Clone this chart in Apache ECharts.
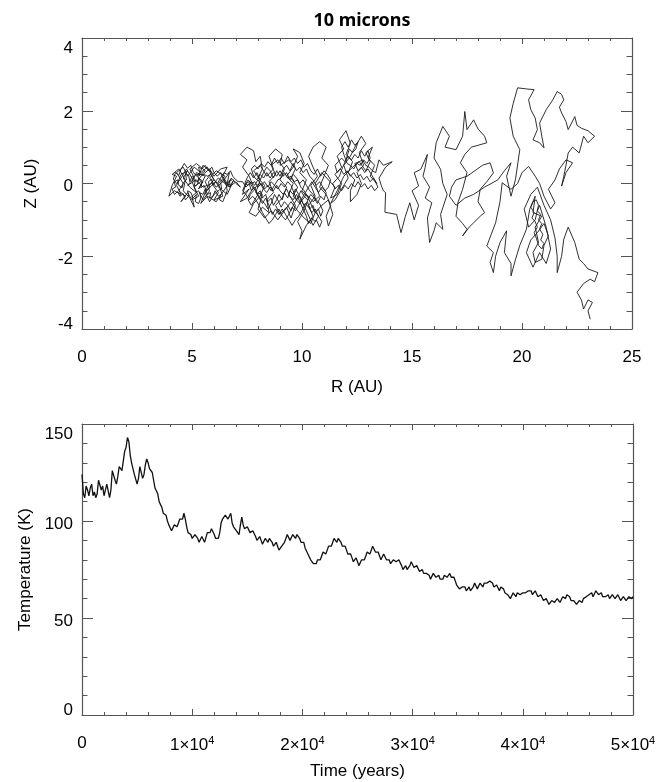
<!DOCTYPE html>
<html>
<head>
<meta charset="utf-8">
<script src="https://cdn.jsdelivr.net/npm/echarts@6/dist/echarts.min.js"></script>
<style>
html,body{margin:0;padding:0;background:#fff;}
#chart{width:663px;height:782px;}
</style>
</head>
<body>
<div id="chart"></div>
<script>
// ---- Data ----
var titleText = '10 microns';
var rTicks = [0, 5, 10, 15, 20, 25];
var zTicks = [-4, -2, 0, 2, 4];
var timeTicks = [0, 10000, 20000, 30000, 40000, 50000];
var tempTicks = [0, 50, 100, 150];

// trajectory in the (R, Z) plane, in AU (consecutive pieces of one path)
var trackInner = [
[5.5,0.05],[5.3,-0.15],[5.6,0.2],[5.2,0.3],[5.0,0.05],[5.2,-0.25],[4.9,-0.1],[4.6,0.15],[4.8,0.35],[4.5,0.25],[4.3,-0.05],[4.5,-0.3],[4.2,-0.2],[3.95,-0.35],[4.1,-0.05],[4.3,0.2],[4.1,0.25],[4.4,0.4],[4.7,0.1],[4.6,-0.2],[4.9,-0.4],[5.1,-0.65],[5.0,-0.35],[5.3,-0.2],[5.5,-0.45],[5.8,-0.2],[5.6,0.05],[5.9,0.3],[5.5,0.5],[5.3,0.2],[5.6,0.35],[5.2,0.55],[4.9,0.4],[5.1,0.15],[4.8,-0.05],[5.2,0.1],[5.5,-0.1],[5.9,0.0],[6.2,-0.25],[6.0,-0.45],[6.4,-0.35],[6.2,0.0],[6.5,0.2],[6.1,0.35],[5.8,0.15],[6.1,-0.1],[6.4,0.05],[6.7,0.3],[6.6,0.0],[6.8,0.15],[6.5,-0.15],[6.1,-0.5],[5.7,-0.35],[5.4,-0.55],[5.7,-0.1],[6.0,0.1],[5.7,0.45],[5.4,0.3],[5.1,0.45],[4.8,0.2],[4.6,0.45],[4.3,0.3],[4.6,0.0],[4.4,-0.2],[4.7,-0.35],[4.5,-0.5],[4.8,-0.25],[5.0,-0.45],[5.3,-0.35],[5.1,-0.1],[5.4,0.05],[5.2,0.25],[5.5,0.25],[5.8,0.4],[6.0,0.2],[6.3,0.4],[6.6,0.45],[6.4,0.2],[6.7,-0.1],[6.9,0.1],[6.6,-0.3],[6.3,-0.15],[6.0,-0.3],[5.8,-0.5],[5.6,-0.25],[5.9,-0.05],[6.2,0.15],[6.5,0.0],[6.8,-0.05],[7.0,0.05],[7.2,-0.1]
];
var trackInnerFine = [
[7.0,0.0],[6.85,0.12],[6.7,0.05],[6.75,-0.1],[6.55,-0.05],[6.45,0.1],[6.3,0.02],[6.35,-0.15],[6.2,-0.1],[6.1,0.05],[5.95,-0.05],[5.9,0.12],[5.75,0.05],[5.8,-0.12],[5.65,-0.2],[5.55,-0.05],[5.4,-0.12],[5.45,0.08],[5.3,0.15],[5.25,-0.02],[5.1,-0.08],[5.15,0.1],[5.0,0.2],[4.9,0.05],[4.85,0.22],[4.7,0.28],[4.75,0.1],[4.6,0.02],[4.55,-0.12],[4.4,-0.05],[4.35,0.1],[4.2,0.05],[4.25,-0.1],[4.1,-0.15],[4.2,-0.3],[4.35,-0.22],[4.45,-0.35],[4.6,-0.28],[4.7,-0.45],[4.85,-0.35],[4.8,-0.2],[4.95,-0.25],[5.05,-0.4],[5.2,-0.3],[5.15,-0.5],[5.3,-0.55],[5.4,-0.4],[5.35,-0.25],[5.5,-0.3],[5.6,-0.15],[5.7,-0.3],[5.85,-0.25],[5.8,-0.4],[5.95,-0.35],[6.05,-0.2],[6.2,-0.35],[6.3,-0.3],[6.25,-0.45],[6.4,-0.5],[6.5,-0.35],[6.6,-0.2],[6.55,0.0],[6.4,0.15],[6.3,0.3],[6.15,0.2],[6.0,0.3],[5.9,0.45],[5.75,0.35],[5.6,0.5],[5.45,0.4],[5.3,0.45],[5.35,0.3],[5.2,0.2],[5.05,0.32],[4.95,0.5],[4.8,0.42],[4.65,0.55],[4.5,0.4],[4.4,0.22],[4.25,0.3],[4.15,0.12],[4.3,0.0],[4.45,0.1],[4.6,0.25],[4.75,0.4],[4.9,0.25],[5.05,0.1],[5.25,0.05],[5.4,0.2],[5.55,0.25],[5.7,0.2],[5.85,0.25],[6.0,0.1],[6.15,0.0],[6.3,0.15],[6.45,0.3],[6.6,0.25],[6.75,0.35],[6.85,0.2],[7.0,0.1],[7.1,0.05]
];
var trackMiddleFine = [
[7.3,0.05],[7.45,-0.1],[7.6,0.0],[7.7,-0.2],[7.85,-0.1],[7.95,-0.3],[8.1,-0.2],[8.2,-0.4],[8.35,-0.3],[8.45,-0.5],[8.6,-0.4],[8.7,-0.6],[8.85,-0.45],[8.95,-0.3],[9.1,-0.45],[9.2,-0.25],[9.35,-0.4],[9.45,-0.2],[9.6,-0.3],[9.7,-0.15],[9.85,-0.3],[9.95,-0.45],[10.1,-0.6],[10.25,-0.5],[10.35,-0.7],[10.5,-0.6],[10.6,-0.8],[10.75,-0.7],[10.85,-0.9],[10.95,-0.75],[10.8,-0.55],[10.65,-0.45],[10.5,-0.3],[10.35,-0.2],[10.2,-0.05],[10.05,0.1],[9.9,0.0],[9.75,0.15],[9.6,0.25],[9.45,0.1],[9.3,0.3],[9.15,0.2],[9.0,0.35],[8.85,0.2],[8.7,0.3],[8.55,0.15],[8.4,0.3],[8.25,0.15],[8.1,0.25],[7.95,0.1],[7.8,0.2],[7.7,0.4],[7.85,0.5],[8.0,0.4],[8.15,0.55],[8.3,0.45],[8.45,0.6],[8.6,0.5],[8.75,0.7],[8.9,0.55],[9.05,0.7],[9.2,0.55],[9.35,0.75],[9.5,0.6],[9.65,0.7],[9.8,0.55],[9.95,0.65],[10.1,0.45],[10.25,0.55],[10.4,0.35],[10.55,0.25],[10.7,0.4],[10.85,0.2],[11.0,0.35],[11.15,0.25],[11.3,0.1],[11.2,-0.1],[11.05,-0.2],[10.9,-0.1],[10.75,-0.25],[10.6,-0.1],[10.45,0.05],[10.3,-0.1],[10.15,-0.25],[10.0,-0.4],[9.85,-0.6],[9.7,-0.75],[9.55,-0.65],[9.4,-0.85],[9.25,-1.0],[9.1,-0.9],[8.95,-0.7],[8.8,-0.85],[8.65,-1.0],[8.5,-1.1],[8.35,-0.95],[8.2,-0.8],[8.05,-0.6],[7.9,-0.45],[7.75,-0.35],[7.6,-0.45],[7.45,-0.3],[7.3,-0.2],[7.4,-0.05],[7.55,0.1],[7.7,0.0],[7.85,0.05],[8.0,-0.1],[8.15,0.0],[8.3,-0.15],[8.45,-0.05],[8.6,-0.2],[8.75,-0.05],[8.9,-0.15],[9.05,0.0],[9.2,-0.1],[9.35,0.05],[9.5,-0.05],[9.6,-0.2],[9.75,-0.45],[9.9,-0.35],[10.05,-0.55],[10.2,-0.75],[10.35,-0.95],[10.5,-1.15],[10.65,-1.0],[10.8,-1.2],[10.9,-1.05],[10.7,-0.85],[10.55,-0.75],[10.4,-0.55],[10.25,-0.35],[10.1,-0.2],[9.95,-0.1],[9.8,0.1],[9.65,0.05],[9.5,0.2],[9.35,0.15],[9.2,0.3],[9.05,0.15],[8.9,0.1],[8.75,-0.05],[8.6,0.05],[8.45,-0.1],[8.3,0.05],[8.15,-0.05],[8.0,0.1],[7.85,-0.05],[7.7,0.05],[7.55,-0.05],[7.4,0.0]
];
var trackCoreFine = [
[7.5,0.15],[7.65,0.3],[7.8,0.15],[7.95,0.3],[8.1,0.1],[8.25,0.3],[8.4,0.45],[8.55,0.35],[8.7,0.15],[8.85,0.35],[9.0,0.2],[9.15,0.4],[9.3,0.5],[9.45,0.35],[9.6,0.55],[9.75,0.35],[9.9,0.45],[10.05,0.3],[10.2,0.4],[10.35,0.2],[10.5,0.1],[10.65,-0.05],[10.8,0.05],[10.95,-0.1],[11.1,-0.25],[11.0,-0.45],[10.85,-0.35],[10.7,-0.55],[10.55,-0.4],[10.4,-0.3],[10.25,-0.45],[10.1,-0.35],[9.95,-0.2],[9.8,-0.4],[9.65,-0.55],[9.5,-0.75],[9.35,-0.6],[9.2,-0.5],[9.05,-0.65],[8.9,-0.45],[8.75,-0.3],[8.6,-0.55],[8.45,-0.7],[8.3,-0.55],[8.15,-0.45],[8.0,-0.3],[7.85,-0.45],[7.7,-0.6],[7.55,-0.45],[7.65,-0.3],[7.8,-0.2],[7.95,-0.05],[8.1,0.0],[8.25,-0.15],[8.4,-0.25],[8.55,-0.1],[8.7,-0.2],[8.85,-0.05],[9.0,-0.2],[9.15,-0.3],[9.3,-0.15],[9.45,-0.35],[9.6,-0.45],[9.75,-0.3],[9.9,-0.5],[10.05,-0.7],[10.2,-0.9],[10.3,-1.1],[10.45,-0.95],[10.6,-1.05],[10.75,-0.9],[10.6,-0.7],[10.45,-0.8],[10.3,-0.65],[10.15,-0.55],[10.0,-0.75],[9.85,-0.9],[9.7,-1.0],[9.55,-1.15],[9.4,-1.0],[9.25,-0.85],[9.1,-0.7],[8.95,-0.85],[8.8,-0.7],[8.65,-0.85],[8.5,-0.6],[8.35,-0.4],[8.2,-0.55],[8.05,-0.4],[7.9,-0.2],[7.75,-0.1],[7.6,0.05],[7.45,0.0]
];
var trackMiddle = [
[7.4,0.0],[7.3,-0.3],[7.6,-0.15],[7.2,-0.5],[7.5,-0.4],[7.8,-0.1],[7.6,0.2],[7.3,0.45],[7.5,0.65],[7.2,0.8],[7.5,1.0],[7.8,0.9],[7.9,0.6],[8.1,0.75],[8.2,0.4],[8.0,0.15],[8.3,-0.05],[8.1,-0.35],[7.8,-0.55],[7.6,-0.8],[7.9,-0.9],[8.2,-0.65],[8.5,-0.8],[8.4,-0.45],[8.7,-0.25],[8.5,0.05],[8.8,0.25],[8.6,0.5],[8.9,0.65],[9.2,0.4],[9.0,0.1],[9.3,-0.1],[9.1,-0.4],[8.8,-0.6],[9.0,-0.85],[9.3,-0.65],[9.5,-0.95],[9.7,-0.6],[9.4,-0.3],[9.6,0.0],[9.3,0.2],[9.6,0.45],[9.8,0.75],[9.6,0.95],[9.9,0.85],[10.1,0.55],[9.9,0.3],[10.2,0.1],[10.0,-0.2],[10.3,-0.4],[10.1,-0.75],[9.8,-1.05],[10.0,-1.3],[9.9,-1.53],[10.2,-1.15],[10.5,-0.9],[10.3,-0.6],[10.6,-0.35],[10.4,-0.05],[10.7,0.2],[10.5,0.45],[10.3,0.75],[10.5,1.0],[10.8,1.15],[11.1,1.0],[10.9,0.7],[11.2,0.5],[11.0,0.2],[10.8,-0.1],[11.1,-0.3],[11.3,-0.6],[11.1,-0.9],[11.2,-1.17],[11.4,-0.85],[11.2,-0.45],[10.9,-0.6],[10.6,-0.8],[10.4,-1.1],[10.1,-0.95],[9.8,-0.75],[9.5,-0.5],[9.2,-0.75],[8.9,-1.0],[8.6,-0.75],[8.3,-0.95],[8.0,-0.7],[8.2,-0.3],[7.9,-0.25],[8.1,0.1],[7.8,0.35],[8.1,0.5],[8.4,0.2],[8.7,0.4],[8.5,0.75],[8.8,0.95],[9.1,0.8],[9.0,0.5],[9.4,0.65],[9.7,0.4],[9.5,0.15],[9.8,-0.1],[9.6,-0.35],[9.9,-0.55],[10.2,-0.3],[10.5,-0.5],[10.8,-0.35],[10.6,0.0],[10.9,0.3],[11.2,0.1],[11.5,-0.1],[11.3,-0.4],[11.6,-0.3],[11.8,0.0],[11.5,0.25],[11.8,0.45],[11.6,0.75],[11.9,0.95],[11.7,1.2],[12.0,1.45],[12.2,1.1],[12.0,0.8],[12.3,0.6],[12.1,0.3],[12.4,0.1],[12.2,-0.2],[12.2,-0.5],[12.5,-0.3],[12.7,0.0],[12.5,0.3],[12.8,0.5],[12.6,0.85],[12.9,1.1],[12.7,1.3],[12.4,1.0],[12.2,0.75],[11.9,0.5],[12.1,0.15],[11.8,-0.15],[11.5,-0.45],[11.3,-0.55],[11.6,-0.2],[11.9,0.2],[12.3,0.45],[12.6,0.6],[12.9,0.35],[13.1,0.6],[12.9,0.85],[13.2,1.0],[13.0,0.7],[13.3,0.5],[13.1,0.2],[13.4,0.0]
];
var trackUpperFine = [
[13.25,0.15],[13.1,0.05],[12.95,0.2],[12.8,0.1],[12.65,0.25],[12.5,0.15],[12.35,0.3],[12.2,0.2],[12.05,0.35],[11.9,0.25],[11.75,0.4],[11.6,0.3],[11.5,0.5],[11.65,0.6],[11.8,0.7],[11.95,0.6],[12.1,0.75],[12.25,0.65],[12.4,0.8],[12.55,0.7],[12.7,0.9],[12.85,0.75],[13.0,0.9],[13.1,0.7],[12.95,0.55],[12.8,0.65],[12.65,0.5],[12.5,0.55],[12.35,0.4],[12.2,0.5],[12.05,0.55],[11.9,0.8],[11.8,1.0],[11.95,1.15],[12.1,1.0],[12.25,1.2],[12.4,1.05],[12.55,1.15],[12.45,0.95],[12.3,0.85],[12.15,0.95],[12.0,0.65],[11.85,0.45],[11.7,0.2],[11.55,0.1],[11.4,0.0],[11.5,-0.15],[11.65,-0.05],[11.8,-0.2],[11.95,-0.05],[12.1,-0.15],[12.25,0.0],[12.4,-0.1],[12.55,0.05],[12.7,-0.1],[12.85,0.0],[13.0,-0.15],[13.15,-0.05],[13.3,-0.2],[13.45,-0.1],[13.3,0.1],[13.15,0.25],[13.0,0.4],[12.85,0.3],[12.7,0.45],[12.55,0.35],[12.4,0.55],[12.6,0.6],[12.75,0.65],[12.9,0.5],[13.05,0.45],[13.2,0.35],[13.35,0.3],[13.5,0.65],[13.7,0.5],[14.1,0.6],[13.8,0.45],[13.5,0.15],[13.6,-0.05],[13.7,-0.2]
];
var trackOuter = [
[13.8,-0.25],[13.77,-0.79],[14.3,-0.85],[14.5,-1.35],[14.7,-0.9],[14.9,-0.53],[15.1,-1.0],[15.3,-0.6],[15.0,-0.2],[15.3,-0.07],[15.1,0.3],[15.4,0.39],[15.7,0.8],[15.6,0.45],[15.5,0.2],[15.8,-0.1],[15.6,-0.4],[15.9,-0.53],[15.7,-0.95],[15.8,-1.62],[16.0,-1.3],[16.1,-1.08],[16.4,-1.26],[16.3,-0.85],[16.6,-0.3],[16.4,0.0],[16.3,0.39],[16.0,0.7],[16.1,1.12],[16.4,1.57],[16.7,1.3],[16.5,1.0],[17.0,0.93],[17.3,1.3],[17.4,1.98],[17.5,1.48],[17.8,1.75],[18.0,1.5],[18.3,1.3],[18.4,1.12],[18.0,1.05],[17.7,1.0],[17.4,0.8],[17.2,0.57],[17.5,0.3],[17.3,-0.16],[17.1,-0.5],[17.0,-0.9],[17.3,-1.1],[17.5,-1.26],[17.3,-1.44],[17.6,-1.2],[17.8,-1.08],[18.1,-0.9],[18.3,-0.8],[18.0,-0.5],[18.1,-0.16],[18.4,0.05],[18.7,0.29],[18.55,0.57],[18.2,0.5],[17.95,0.39],[17.5,0.2],[17.0,0.1],[16.8,-0.1],[16.7,-0.35],[17.0,-0.6],[17.4,-0.4],[17.8,-0.3],[18.3,-0.1],[18.9,0.1],[19.2,0.35],[19.5,0.57],[19.3,0.2],[19.5,-0.35],[19.7,0.1],[19.9,0.93],[19.6,1.3],[19.45,1.8],[19.6,2.2],[19.8,2.63],[20.2,2.6],[20.55,2.58],[20.3,2.3],[20.4,2.03],[20.6,1.8],[20.7,1.48],[20.5,1.2],[20.8,1.12],[21.0,0.98],[20.9,1.3],[20.8,1.66],[21.1,2.03],[21.4,2.3],[21.6,2.53],[21.8,2.45],[21.9,2.3],[21.7,2.1],[21.8,1.94],[22.0,1.7],[22.1,1.48],[22.4,1.84],[22.5,1.6],[22.7,1.52],[23.0,1.45],[23.3,1.3],[23.0,1.12],[22.8,1.3],[22.6,0.84],[22.3,1.0],[22.1,0.84],[22.0,0.5],[21.9,0.2],[21.8,-0.07],[22.0,0.3],[22.3,0.57],[22.0,0.65],[21.7,0.4],[21.5,0.1],[21.2,-0.16],[21.5,-0.53],[21.3,-0.7],[21.0,-0.35],[20.8,0.0],[20.6,0.2],[20.3,0.47],[20.0,0.3],[19.8,0.0],[19.5,-0.16],[19.1,0.02],[19.0,-0.5],[18.8,-1.08],[18.6,-1.4],[18.4,-1.72],[18.7,-1.9],[18.55,-2.17],[18.7,-2.45],[18.8,-2.0],[19.0,-1.62],[19.3,-1.3],[19.2,-1.9],[19.5,-2.2],[19.5,-2.54],[19.7,-2.1],[19.9,-1.7],[20.2,-1.26],[20.35,-0.71],[20.6,-0.35],[20.5,-0.8],[20.9,-0.9],[20.6,-1.2],[20.75,-1.62],[20.5,-1.9],[20.6,-2.17],[20.9,-2.08],[21.0,-1.7],[21.2,-1.44],[21.0,-1.1],[20.7,-1.35],[20.4,-1.55],[20.2,-1.9],[20.5,-2.3],[20.8,-1.9],[21.1,-2.2],[21.3,-1.8],[21.1,-1.2],[20.8,-0.6],[20.7,-0.75],[20.85,-0.85],[20.75,-1.0],[20.9,-1.1],[20.8,-1.25],[20.95,-1.4],[20.85,-1.55],[21.0,-1.65],[20.9,-1.8],[20.75,-1.7],[20.65,-1.5],[20.55,-1.35],[20.7,-1.2],[20.6,-1.05],[20.45,-0.95],[20.55,-0.8],[20.4,-0.65],[20.5,-0.5],[20.65,-0.45],[20.75,-0.6],[20.6,-1.0],[20.3,-1.2],[20.1,-0.7],[20.4,-0.3],[20.7,-0.1],[21.0,-0.6],[21.3,-1.0],[21.5,-1.5],[21.6,-2.0],[21.6,-2.45],[21.8,-2.0],[21.9,-1.53],[22.1,-1.2],[22.4,-1.62],[22.6,-2.08],[22.8,-2.2],[23.0,-2.35],[23.45,-2.45],[23.3,-2.7],[23.1,-2.63],[22.8,-2.75],[22.5,-2.99],[22.7,-3.2],[22.8,-3.45],[23.0,-3.2],[23.2,-3.27],[23.0,-3.5],[23.1,-3.73]
];

// temperature (K): samples every 250 years from t = 0, and the in-between samples (t = 125, 375, ...)
var timeStep = 250;
var temperature = [
124,112,116,117,113,112,121,116,113,119,112,126,121,123,127,131,138,141,130,124,
119,128,122,129,130,126,121,116,110,107,103,100,97,96,98,99,101,104,97,93,
91,93,91,90,92,90,95,96,93,90,94,101,103,101,104,97,95,93,102,96,
97,94,95,92,91,90,89,90,91,89,88,87,84,88,91,93,91,92,93,91,
90,86,83,80,78,78,81,82,84,85,87,89,90,91,89,88,85,83,81,80,
79,78,80,82,84,85,87,83,82,81,82,79,78,80,79,80,77,76,75,77,
78,76,76,74,73,73,72,71,72,72,70,70,72,72,71,71,67,65,66,66,
65,64,66,67,66,67,68,68,69,68,67,66,66,65,63,61,61,62,63,62,
63,63,64,64,63,63,62,61,60,59,58,59,59,60,59,60,62,61,58,58,
58,58,60,61,62,63,62,64,63,61,61,62,61,62,61,61,60,61,60,60,
61
];
var temperatureMid = [
114,118,113,119,115,114,122,118,114,120,116,126,119,128,126,136,143,134,129,123,
122,127,124,132,127,125,117,114,110,104,103,98,95,98,97,101,101,101,94,93,
90,93,89,92,89,94,94,96,91,91,99,100,104,101,99,97,95,98,98,95,
97,93,95,90,92,88,91,89,91,87,89,85,87,89,93,90,93,91,93,89,
89,85,82,80,77,80,80,84,83,87,87,91,89,91,87,87,83,83,79,81,
77,80,80,84,83,87,84,84,80,83,80,80,78,81,78,79,75,77,75,79,
76,77,74,75,72,74,70,73,71,72,69,72,71,73,70,69,66,64,67,64,
66,64,68,65,68,66,69,67,70,66,67,64,66,63,62,60,63,61,64,61,
64,62,65,62,64,61,62,59,60,57,59,58,60,58,61,60,63,59,59,57,
59,58,61,61,63,61,64,62,63,60,62,60,62,60,62,59,61,59,61,60
];

// ---- Build chart ----
var trajectory = trackInner.concat(trackInnerFine, trackMiddleFine, trackCoreFine, trackMiddle, trackUpperFine, trackOuter);
var tempData = [];
temperature.forEach(function (v, i) {
  tempData.push([i * timeStep, v]);
  if (i < temperatureMid.length) tempData.push([i * timeStep + timeStep / 2, temperatureMid[i]]);
});

var FONT = '"Liberation Sans", Arial, sans-serif';
var AX = '#555';
var labelFont = { fontFamily: FONT, fontSize: 17, color: '#000' };

function yRich(minV, maxV) {
  return {
    formatter: function (v) {
      if (v === maxV) return '{t|' + v + '}';
      if (v === minV) return '{b|' + v + '}';
      return '{m|' + v + '}';
    },
    rich: {
      t: Object.assign({ padding: [20, 0, 0, 0] }, labelFont),
      m: Object.assign({ padding: [6, 0, 0, 0] }, labelFont),
      b: Object.assign({ padding: [0, 0, 10, 0] }, labelFont)
    }
  };
}

function xAxisDef(grid, min, max, interval, pos, showLabel, extra) {
  var a = {
    type: 'value', gridIndex: grid, position: pos, min: min, max: max, interval: interval,
    axisLine: { show: true, onZero: false, lineStyle: { color: AX, width: 1.2 } },
    axisTick: { show: true, inside: true, length: 6, lineStyle: { color: AX, width: 1 } },
    minorTick: { show: true, splitNumber: 5, length: 3, lineStyle: { color: AX, width: 1 } },
    splitLine: { show: false },
    minorSplitLine: { show: false },
    axisLabel: Object.assign({ show: showLabel, margin: 20 }, labelFont)
  };
  return Object.assign(a, extra || {});
}
function yAxisDef(grid, min, max, interval, pos, showLabel, extra) {
  var a = {
    type: 'value', gridIndex: grid, position: pos, min: min, max: max, interval: interval,
    axisLine: { show: true, onZero: false, lineStyle: { color: AX, width: 1.2 } },
    axisTick: { show: true, inside: true, length: 11, lineStyle: { color: AX, width: 1 } },
    minorTick: { show: true, splitNumber: interval === 2 ? 4 : 5, length: 5.5, lineStyle: { color: AX, width: 1 } },
    splitLine: { show: false },
    minorSplitLine: { show: false },
    axisLabel: Object.assign({ show: showLabel, margin: 9 }, labelFont)
  };
  return Object.assign(a, extra || {});
}

var timeLabel = {
  show: true, margin: 20,
  formatter: function (v) {
    if (v === 0) return '{n|0}';
    return '{n|' + (v / 10000) + '×10}{s|4}';
  },
  rich: {
    n: Object.assign({}, labelFont),
    s: { fontFamily: FONT, fontSize: 11, color: '#000', padding: [0, 0, 10, 0] }
  }
};

var chart = echarts.init(document.getElementById('chart'), null, { renderer: 'canvas' });
chart.setOption({
  animation: false,
  backgroundColor: '#fff',
  title: {
    text: titleText, left: 357, top: 7, textAlign: 'center',
    textStyle: { fontFamily: '"Noto Sans", sans-serif', fontWeight: 'bold', fontSize: 18, color: '#000' }
  },
  grid: [
    { left: 82, right: 31, top: 38, height: 291 },
    { left: 82, right: 30, top: 424, height: 291 }
  ],
  xAxis: [
    xAxisDef(0, rTicks[0], rTicks[rTicks.length - 1], 5, 'bottom', true, {
      name: 'R (AU)', nameLocation: 'middle', nameGap: 50,
      nameTextStyle: labelFont
    }),
    xAxisDef(0, rTicks[0], rTicks[rTicks.length - 1], 5, 'top', false),
    xAxisDef(1, timeTicks[0], timeTicks[timeTicks.length - 1], 10000, 'bottom', true, {
      name: 'Time (years)', nameLocation: 'middle', nameGap: 48,
      nameTextStyle: labelFont, axisLabel: timeLabel
    }),
    xAxisDef(1, timeTicks[0], timeTicks[timeTicks.length - 1], 10000, 'top', false)
  ],
  yAxis: [
    yAxisDef(0, zTicks[0], zTicks[zTicks.length - 1], 2, 'left', true, {
      name: 'Z (AU)', nameLocation: 'middle', nameGap: 42,
      nameTextStyle: labelFont,
      axisLabel: Object.assign({ show: true, margin: 9 }, yRich(zTicks[0], zTicks[zTicks.length - 1]))
    }),
    yAxisDef(0, zTicks[0], zTicks[zTicks.length - 1], 2, 'right', false),
    yAxisDef(1, tempTicks[0], tempTicks[tempTicks.length - 1], 50, 'left', true, {
      name: 'Temperature (K)', nameLocation: 'middle', nameGap: 44,
      nameTextStyle: labelFont,
      axisLabel: Object.assign({ show: true, margin: 9 }, yRich(tempTicks[0], tempTicks[tempTicks.length - 1]))
    }),
    yAxisDef(1, tempTicks[0], tempTicks[tempTicks.length - 1], 50, 'right', false)
  ],
  series: [
    {
      type: 'line', xAxisIndex: 0, yAxisIndex: 0, data: trajectory,
      showSymbol: false, symbol: 'none', smooth: false,
      lineStyle: { color: '#1a1a1a', width: 0.9 }
    },
    {
      type: 'line', xAxisIndex: 2, yAxisIndex: 2, data: tempData,
      showSymbol: false, symbol: 'none', smooth: false,
      lineStyle: { color: '#111', width: 1.3 }
    }
  ]
});
</script>
</body>
</html>
